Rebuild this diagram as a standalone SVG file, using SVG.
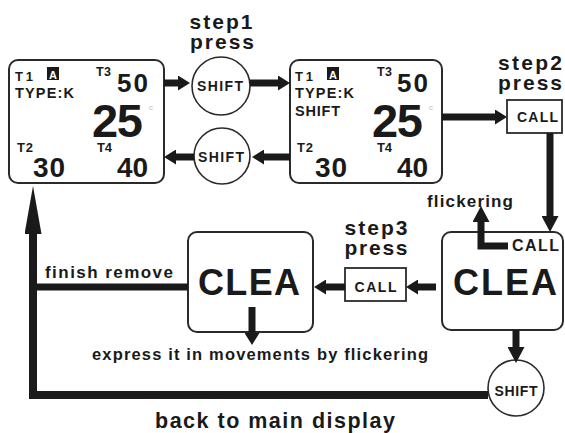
<svg xmlns="http://www.w3.org/2000/svg" width="565" height="433" viewBox="0 0 565 433">
<style>
.bx{fill:#fff;stroke:#2a2a2a;stroke-width:2}
.ci{fill:#fff;stroke:#2a2a2a;stroke-width:1.6}
.cb{fill:#fff;stroke:#2a2a2a;stroke-width:1.8}
.t{font-family:"Liberation Sans",Arial,sans-serif;font-weight:bold;fill:#1a1a1a}
.n{font-family:"Liberation Sans",Arial,sans-serif;font-weight:bold;fill:#1a1a1a}
.c{fill:none;stroke:#1a1a1a;stroke-width:7}
</style>
<defs>
<marker id="ah" viewBox="0 0 12 15" markerWidth="12" markerHeight="15" refX="0" refY="7.5" orient="auto" markerUnits="userSpaceOnUse"><path d="M0,0 L12,7.5 L0,15 z" fill="#1a1a1a"/></marker>
<marker id="ahv" viewBox="0 0 16 17" markerWidth="16" markerHeight="17" refX="0" refY="8.5" orient="auto" markerUnits="userSpaceOnUse"><path d="M0,0 L16,8.5 L0,17 z" fill="#1a1a1a"/></marker>
<marker id="ahl" viewBox="0 0 48 17" markerWidth="48" markerHeight="17" refX="0" refY="8.5" orient="auto" markerUnits="userSpaceOnUse"><path d="M0,0 L48,8.5 L0,17 z" fill="#1a1a1a"/></marker>
</defs>
<rect width="565" height="433" fill="#fff"/>

<g id="display1">
<rect class="bx" x="9" y="60" width="155" height="123" rx="9"/>
<text class="t" x="15" y="81" font-size="13" textLength="18">T1</text>
<rect x="47" y="67" width="12" height="13" fill="#1a1a1a"/>
<text class="t" x="53" y="78.5" font-size="11" text-anchor="middle" style="fill:#fff">A</text>
<text class="t" x="15" y="98" font-size="14.5" textLength="59">TYPE:K</text>
<text class="t" x="96" y="76" font-size="12.5" textLength="15">T3</text>
<text class="n" x="117" y="92" font-size="26" textLength="31">50</text>
<text class="n" x="92" y="137" font-size="47" textLength="51">25</text>
<text x="149" y="110" font-size="8" font-family="Liberation Sans,sans-serif" fill="#bbb">c</text>
<text class="t" x="17" y="152" font-size="13" textLength="16">T2</text>
<text class="n" x="33" y="177" font-size="28" textLength="32">30</text>
<text class="t" x="97" y="152" font-size="13" textLength="15">T4</text>
<text class="n" x="117" y="177" font-size="28" textLength="31">40</text>
</g>

<g id="display2">
<rect class="bx" x="290" y="60" width="152" height="123" rx="9"/>
<text class="t" x="295" y="81" font-size="13" textLength="18">T1</text>
<rect x="327" y="67" width="12" height="13" fill="#1a1a1a"/>
<text class="t" x="333" y="78.5" font-size="11" text-anchor="middle" style="fill:#fff">A</text>
<text class="t" x="295" y="98" font-size="14.5" textLength="59">TYPE:K</text>
<text class="t" x="295" y="116" font-size="14.5" textLength="45">SHIFT</text>
<text class="t" x="377" y="76" font-size="12.5" textLength="15">T3</text>
<text class="n" x="397" y="92" font-size="26" textLength="31">50</text>
<text class="n" x="372" y="137" font-size="47" textLength="51">25</text>
<text x="429" y="110" font-size="8" font-family="Liberation Sans,sans-serif" fill="#bbb">c</text>
<text class="t" x="297" y="152" font-size="13" textLength="16">T2</text>
<text class="n" x="315" y="177" font-size="28" textLength="32">30</text>
<text class="t" x="377" y="152" font-size="13" textLength="15">T4</text>
<text class="n" x="397" y="177" font-size="28" textLength="31">40</text>
</g>

<g id="step1">
<text class="t" x="221" y="29" font-size="21" text-anchor="middle" textLength="63">step1</text>
<text class="t" x="222" y="49" font-size="21" text-anchor="middle" textLength="64">press</text>
</g>
<g id="shift1">
<circle class="ci" cx="221" cy="86" r="29"/>
<text class="t" x="220" y="91" font-size="14" text-anchor="middle" textLength="46">SHIFT</text>
</g>
<g id="shift2">
<circle class="ci" cx="222" cy="156" r="28"/>
<text class="t" x="221" y="162" font-size="14" text-anchor="middle" textLength="46">SHIFT</text>
</g>

<g id="step2">
<text class="t" x="530" y="70" font-size="21" text-anchor="middle" textLength="64">step2</text>
<text class="t" x="530" y="90" font-size="21" text-anchor="middle" textLength="64">press</text>
</g>
<g id="call2">
<rect class="cb" x="507" y="100" width="55" height="33"/>
<text class="t" x="537.5" y="122" font-size="14" text-anchor="middle" textLength="41">CALL</text>
</g>

<g id="clea-right">
<rect class="bx" x="442" y="232" width="121" height="98" rx="9"/>
<text class="t" x="512" y="251" font-size="16" textLength="47">CALL</text>
<text class="t" x="453" y="295" font-size="36" textLength="104">CLEA</text>
</g>
<text id="flickering" class="t" x="427" y="207" font-size="17" textLength="86">flickering</text>

<g id="step3">
<text class="t" x="376" y="235" font-size="21" text-anchor="middle" textLength="63">step3</text>
<text class="t" x="376" y="255" font-size="21" text-anchor="middle" textLength="63">press</text>
</g>
<g id="call3">
<rect class="cb" x="345" y="268" width="61" height="33"/>
<text class="t" x="375.5" y="292" font-size="14" text-anchor="middle" textLength="42">CALL</text>
</g>

<g id="clea-mid">
<rect class="bx" x="188" y="232" width="125" height="100" rx="9"/>
<text class="t" x="198" y="295" font-size="36" textLength="102">CLEA</text>
</g>

<g id="shift3">
<circle class="ci" cx="516" cy="388" r="28"/>
<text class="t" x="516" y="396" font-size="14" text-anchor="middle" textLength="43">SHIFT</text>
</g>

<text class="t" x="45" y="278" font-size="17" textLength="128">finish remove</text>
<text class="t" x="92" y="360" font-size="16.5" textLength="336">express it in movements by flickering</text>
<text class="t" x="155" y="428" font-size="21.5" textLength="240">back to main display</text>

<g id="connectors">
<line class="c" x1="164" y1="83" x2="178" y2="83" marker-end="url(#ah)"/>
<line class="c" x1="250" y1="83" x2="278" y2="83" marker-end="url(#ah)"/>
<line class="c" x1="290" y1="157" x2="264" y2="157" marker-end="url(#ah)"/>
<line class="c" x1="194" y1="157" x2="176" y2="157" marker-end="url(#ah)"/>
<line class="c" x1="442" y1="117" x2="495" y2="117" marker-end="url(#ah)"/>
<line class="c" x1="550" y1="133" x2="550" y2="216" marker-end="url(#ahv)"/>
<polyline class="c" points="508,246 481,246 481,222" marker-end="url(#ahv)"/>
<line class="c" x1="436" y1="287" x2="418" y2="287" marker-end="url(#ah)"/>
<line class="c" x1="345" y1="287" x2="326" y2="287" marker-end="url(#ah)"/>
<line class="c" x1="252" y1="307" x2="252" y2="333" marker-end="url(#ah)"/>
<line class="c" x1="516" y1="330" x2="516" y2="347" marker-end="url(#ahv)"/>
<polyline class="c" style="stroke-width:8" points="488,395 33,395 33,234" marker-end="url(#ahl)"/>
<line class="c" x1="188" y1="287" x2="33" y2="287"/>
</g>
</svg>
